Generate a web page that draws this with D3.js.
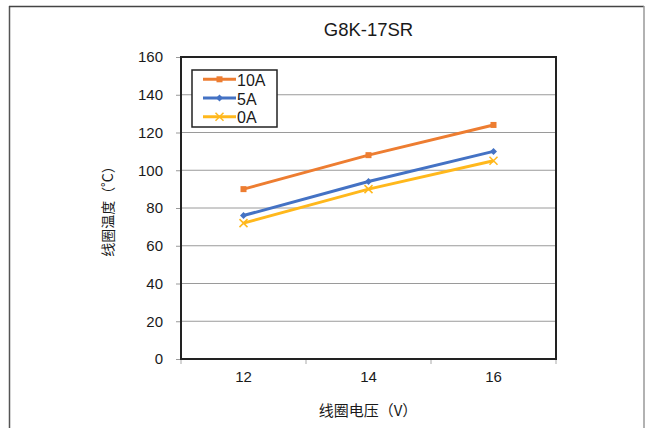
<!DOCTYPE html>
<html><head><meta charset="utf-8">
<script src="https://cdn.jsdelivr.net/npm/d3@7"></script>
<style>body{margin:0;background:#fff}svg{display:block}</style>
</head><body>
<script>
const categories = ["12", "14", "16"];
const seriesNames = ["10A", "5A", "0A"];
const values10A = [90, 108, 124];
const values5A = [76, 94, 110];
const values0A = [72, 90, 105];
const yTicks = [0, 20, 40, 60, 80, 100, 120, 140, 160];
const colors = ["#ED7D31", "#4472C4", "#FFB81C"];
const markers = ["square", "diamond", "x"];
const series = [values10A, values5A, values0A];

const W = 645, H = 428;
const svg = d3.select("body").append("svg").attr("width", W).attr("height", H);
const font = "Liberation Sans, Arial, sans-serif";
const cjk = "Noto Sans CJK SC, sans-serif";

// outer frame
svg.append("line").attr("x1", 9.5).attr("x2", 9.5).attr("y1", 6).attr("y2", H).attr("stroke", "#555").attr("stroke-width", 1.5);
svg.append("line").attr("x1", 9).attr("x2", 644).attr("y1", 6.5).attr("y2", 6.5).attr("stroke", "#444").attr("stroke-width", 1.5);
svg.append("line").attr("x1", 644).attr("x2", 644).attr("y1", 6).attr("y2", H).attr("stroke", "#999").attr("stroke-width", 1.5);

const L = 181, R = 556, T = 57, B = 359;
const x = d3.scaleBand().domain(categories).range([L, R]);
const y = d3.scaleLinear().domain([0, 160]).range([B, T]);

// gridlines
svg.append("g").selectAll("line").data(yTicks.slice(1, -1)).join("line")
  .attr("x1", L).attr("x2", R).attr("y1", d => y(d)).attr("y2", d => y(d))
  .attr("stroke", "#9a9a9a").attr("stroke-width", 1);

// y axis
const yAxis = svg.append("g").attr("transform", `translate(${L},0)`)
  .call(d3.axisLeft(y).tickValues(yTicks).tickSize(5).tickPadding(13));
yAxis.select(".domain").remove();
yAxis.selectAll("line").attr("stroke", "#999");
yAxis.selectAll("text").attr("font-family", font).attr("font-size", 15).attr("fill", "#1a1a1a");

// x axis ticks at boundaries
const bounds = [L, ...categories.map(c => x(c) + x.bandwidth())];
svg.append("g").selectAll("line").data(bounds).join("line")
  .attr("x1", d => d).attr("x2", d => d).attr("y1", B).attr("y2", B + 5)
  .attr("stroke", "#aaa");
svg.append("g").selectAll("text").data(categories).join("text")
  .attr("x", d => x(d) + x.bandwidth() / 2).attr("y", B + 23)
  .attr("text-anchor", "middle").attr("font-family", font).attr("font-size", 15).attr("fill", "#1a1a1a")
  .text(d => d);

// plot border
svg.append("rect").attr("x", L).attr("y", T).attr("width", R - L).attr("height", B - T)
  .attr("fill", "none").attr("stroke", "#222").attr("stroke-width", 2);

// lines
const line = d3.line().x((d, i) => x(categories[i]) + x.bandwidth() / 2).y(d => y(d));
function drawMarker(g, type, cx, cy, color) {
  if (type === "square") {
    g.append("rect").attr("x", cx - 3).attr("y", cy - 3).attr("width", 6).attr("height", 6).attr("fill", color);
  } else if (type === "diamond") {
    g.append("path").attr("d", `M${cx},${cy-3.5}L${cx+3.5},${cy}L${cx},${cy+3.5}L${cx-3.5},${cy}Z`).attr("fill", color);
  } else {
    g.append("path").attr("d", `M${cx-4},${cy-4}L${cx+4},${cy+4}M${cx-4},${cy+4}L${cx+4},${cy-4}`)
      .attr("stroke", color).attr("stroke-width", 1.5);
  }
}
series.forEach((vals, si) => {
  svg.append("path").datum(vals).attr("d", line).attr("fill", "none")
    .attr("stroke", colors[si]).attr("stroke-width", 3);
  const g = svg.append("g");
  vals.forEach((v, i) => drawMarker(g, markers[si], x(categories[i]) + x.bandwidth() / 2, y(v), colors[si]));
});

// legend
svg.append("rect").attr("x", 192).attr("y", 70).attr("width", 85).attr("height", 57)
  .attr("fill", "#fff").attr("stroke", "#222").attr("stroke-width", 1.5);
seriesNames.forEach((n, i) => {
  const ly = 79.3 + i * 18.7;
  svg.append("line").attr("x1", 203).attr("x2", 236).attr("y1", ly).attr("y2", ly)
    .attr("stroke", colors[i]).attr("stroke-width", 3);
  drawMarker(svg, markers[i], 219.5, ly, colors[i]);
  svg.append("text").attr("x", 237).attr("y", ly + 6.5).attr("font-family", font).attr("font-size", 16)
    .attr("fill", "#1a1a1a").text(n);
});

// title
svg.append("text").attr("x", 368.5).attr("y", 36).attr("text-anchor", "middle")
  .attr("font-family", font).attr("font-size", 18.5).attr("fill", "#1a1a1a").text("G8K-17SR");

// axis titles
svg.append("text").attr("x", 368).attr("y", 416).attr("text-anchor", "middle")
  .attr("font-family", cjk).attr("font-size", 15).attr("fill", "#1a1a1a")
  .text("线圈电压（V）");
svg.append("text").attr("transform", "translate(113,208) rotate(-90)").attr("text-anchor", "middle")
  .attr("font-family", cjk).attr("font-size", 14).attr("fill", "#1a1a1a")
  .text("线圈温度（˚C）");
</script>
</body></html>
